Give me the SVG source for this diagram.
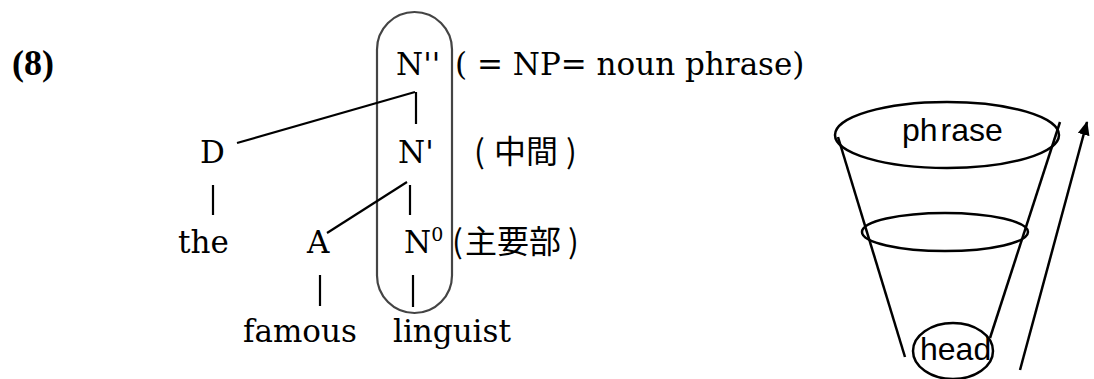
<svg xmlns="http://www.w3.org/2000/svg" width="1094" height="379" viewBox="0 0 1094 379">
<style>
.t{font-family:"DejaVu Serif","Liberation Serif",serif;font-size:31px;fill:#000}
.num{font-family:"Liberation Serif",serif;font-size:36px;font-weight:bold;fill:#000}
.cjk{font-family:"Noto Sans CJK JP","Noto Sans CJK SC",sans-serif;font-size:32px;fill:#000}
.s{font-family:"Liberation Sans",Arial,sans-serif;font-size:32px;fill:#000}
.ln{stroke:#000;stroke-width:2.2;fill:none}
.sh{stroke:#000;stroke-width:2.5;fill:none}
</style>
<defs>
<marker id="ah" markerWidth="14" markerHeight="12" refX="13" refY="6" orient="auto" markerUnits="userSpaceOnUse" viewBox="0 0 14 12">
<path d="M0,0 L14,6 L0,12 z" fill="#000"/>
</marker>
</defs>
<rect width="1094" height="379" fill="#fff"/>
<text class="num" x="12" y="75">(8)</text>
<g id="head-box"><rect x="377" y="12" width="75" height="301" rx="37.5" fill="none" stroke="#444" stroke-width="2.2"/></g>
<g id="connectors">
<line class="ln" x1="237" y1="143" x2="415" y2="92"/>
<line class="ln" x1="416" y1="92" x2="416" y2="124"/>
<line class="ln" x1="213" y1="185" x2="213" y2="215"/>
<line class="ln" x1="407" y1="182" x2="327" y2="233"/>
<line class="ln" x1="410" y1="185" x2="410" y2="215"/>
<line class="ln" x1="320" y1="275" x2="320" y2="306"/>
<line class="ln" x1="413" y1="275" x2="413" y2="307"/>
</g>
<g id="n2"><text class="t" x="396" y="75">N''</text></g>
<g id="n2-note"><text class="t" x="455" y="75">( = NP= noun phrase)</text></g>
<g id="d"><text class="t" x="200" y="163">D</text></g>
<g id="n1"><text class="t" x="398" y="163">N'</text></g>
<g id="n1-note"><text class="cjk" y="163"><tspan x="474">(</tspan><tspan x="494">中間</tspan><tspan x="566">)</tspan></text></g>
<g id="the"><text class="t" x="178" y="253">the</text></g>
<g id="a"><text class="t" x="307" y="253">A</text></g>
<g id="n0"><text class="t" x="404" y="253">N<tspan font-size="19" dy="-12">0</tspan></text></g>
<g id="n0-note"><text class="cjk" y="253"><tspan x="452">(</tspan><tspan x="465">主要部</tspan><tspan x="568">)</tspan></text></g>
<g id="famous"><text class="t" x="243" y="342">famous</text></g>
<g id="linguist"><text class="t" x="393" y="342">linguist</text></g>
<g id="cone">
<ellipse class="sh" cx="947" cy="135" rx="112" ry="33"/>
<line class="sh" x1="838" y1="137" x2="905" y2="357"/>
<line class="sh" x1="1060" y1="122" x2="990" y2="338"/>
<ellipse class="sh" cx="945" cy="232" rx="83" ry="19"/>
<ellipse class="sh" cx="953" cy="351" rx="40" ry="28"/>
<text class="s" x="902" y="141">ph<tspan dx="3">rase</tspan></text>
<text class="s" x="920" y="360">head</text>
<line class="sh" x1="1020" y1="370" x2="1087" y2="122" marker-end="url(#ah)"/>
</g>
</svg>
